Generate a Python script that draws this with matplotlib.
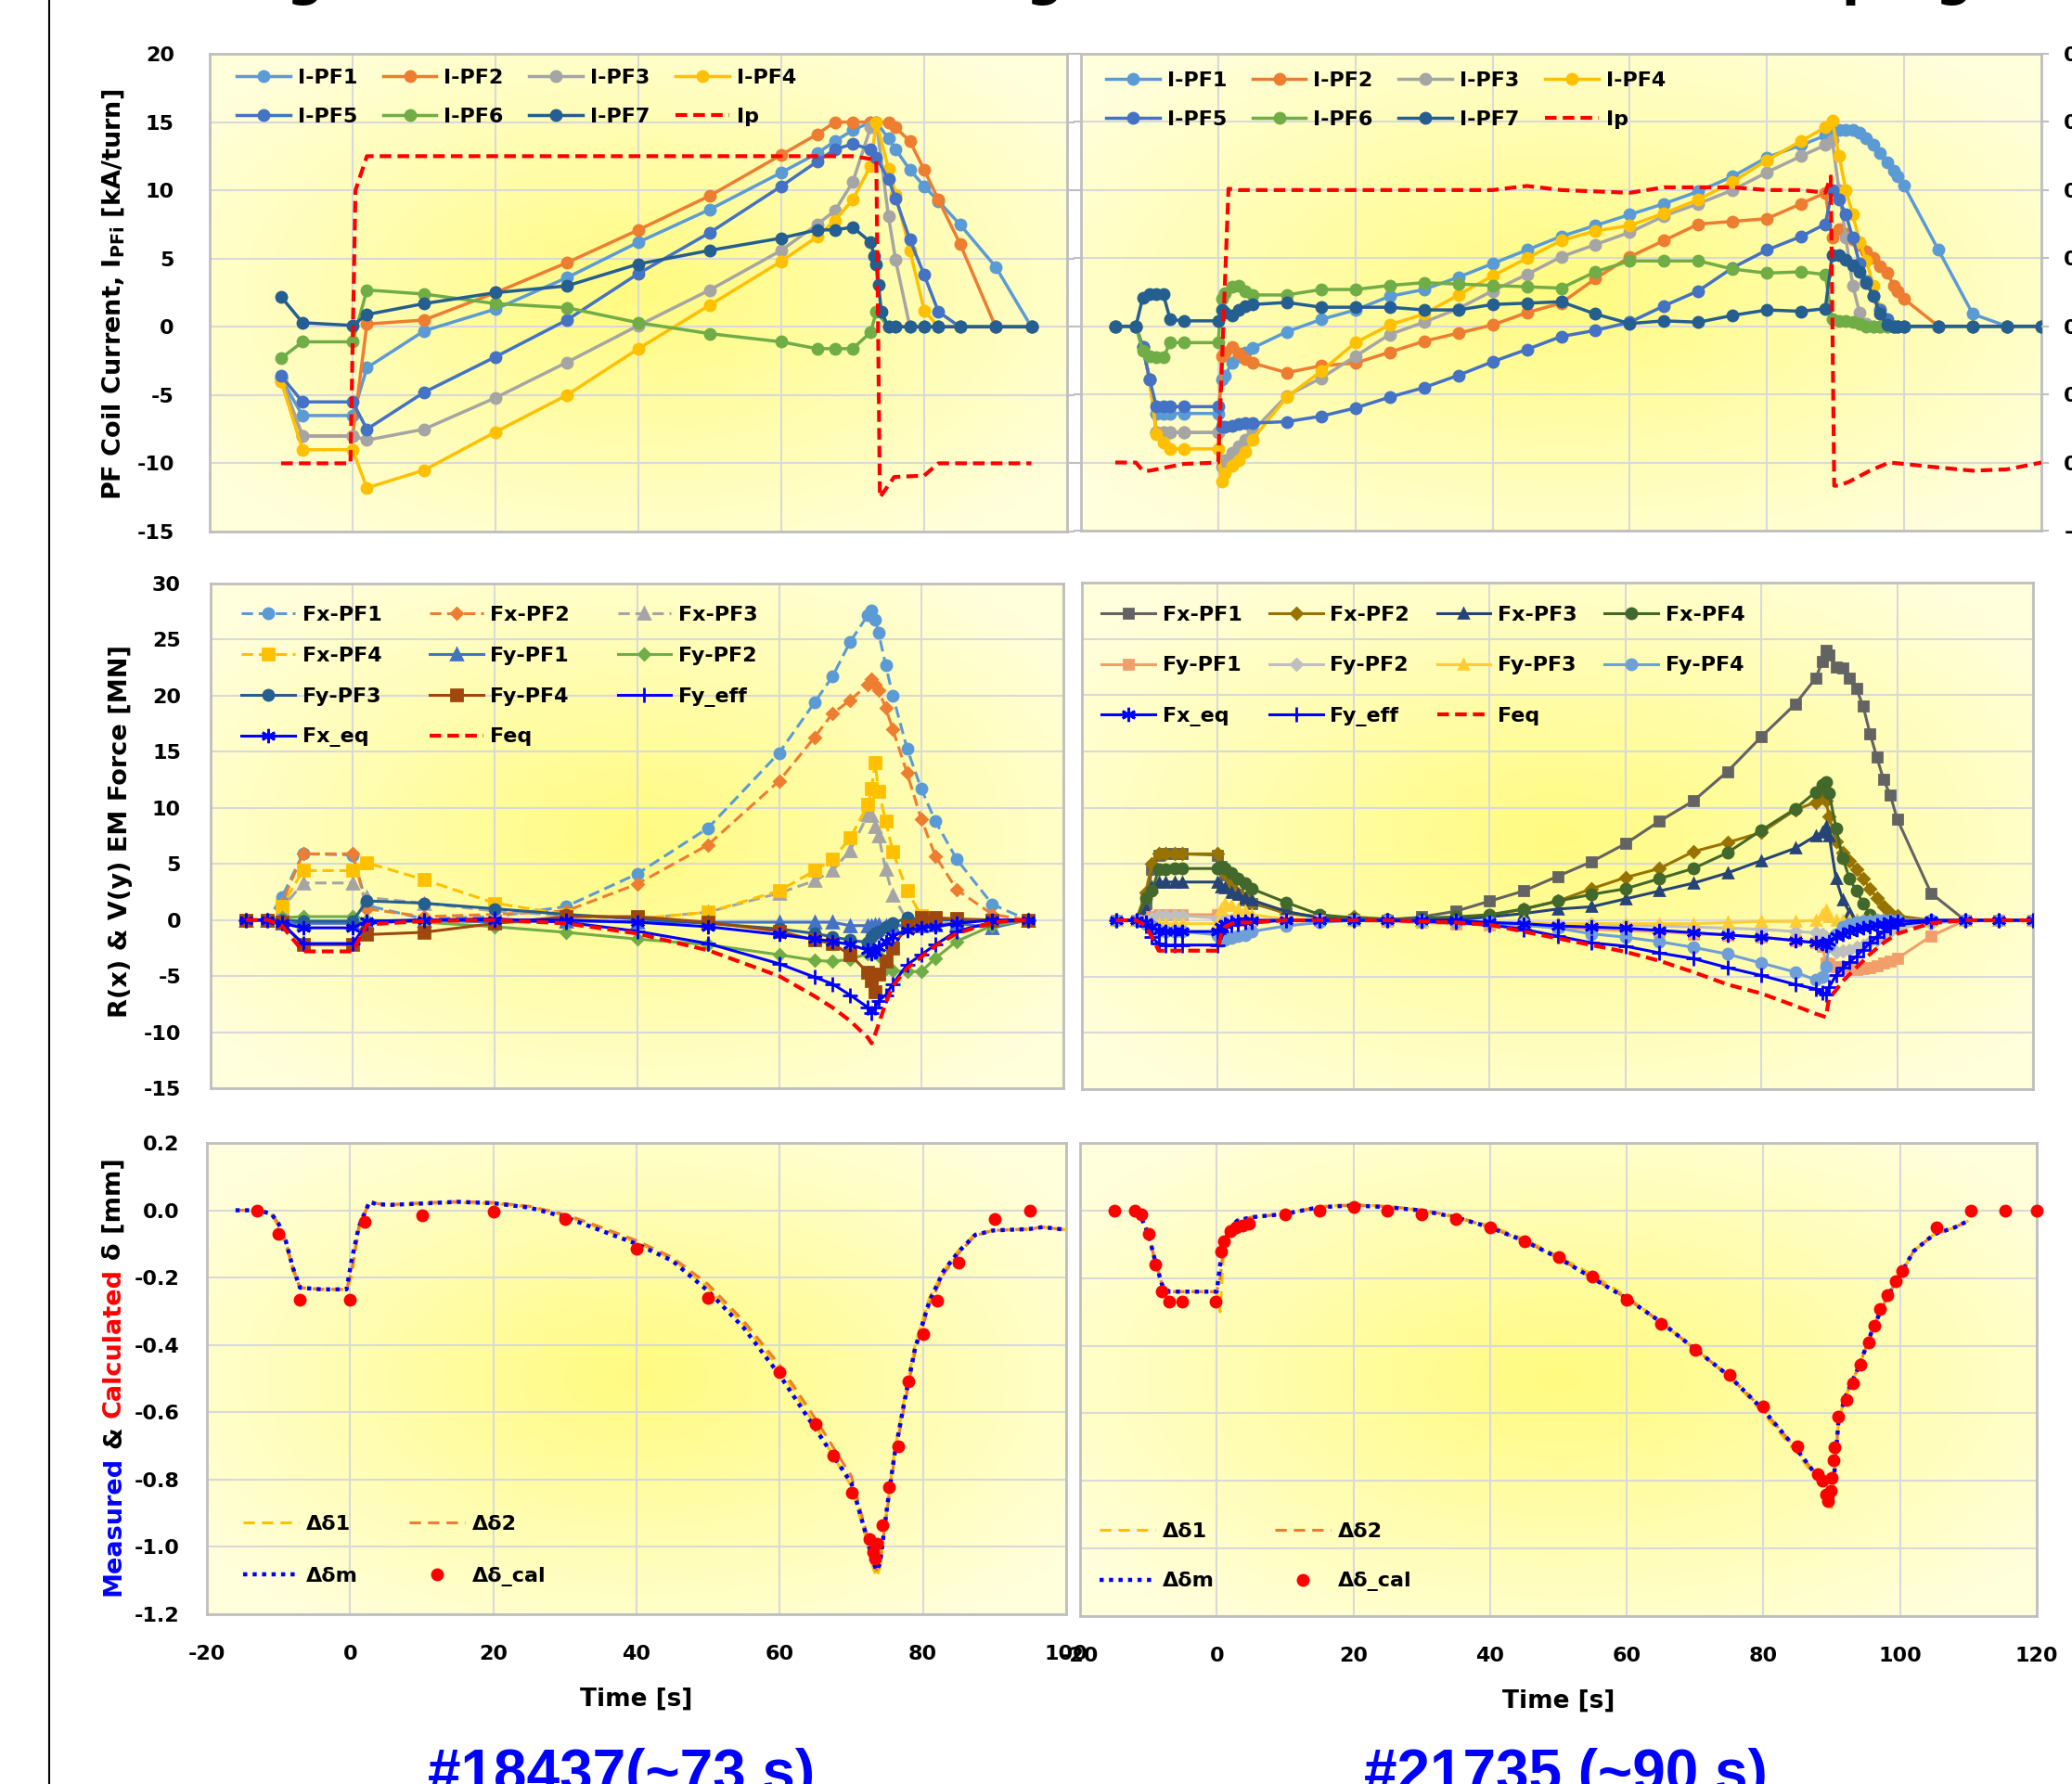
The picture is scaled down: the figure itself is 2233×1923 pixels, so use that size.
import numpy as np
import matplotlib
matplotlib.use("Agg")
import matplotlib.pyplot as plt
from matplotlib.lines import Line2D
from matplotlib.ticker import FormatStrFormatter

# ---------------- shot #18437 : PF coil currents [kA/turn] ----------------
t_pf_a = [-10, -7, 0, 2, 10, 20, 30, 40, 50, 60, 65, 67.5, 70, 72.5, 73.3, 75, 76, 78, 80, 82, 85, 90, 95]
i_pf1_a = [-3.8, -6.5, -6.5, -3.0, -0.3, 1.3, 3.6, 6.2, 8.6, 11.3, 12.7, 13.6, 14.4, 15.0, 15.0, 13.8, 13.0, 11.5, 10.3, 9.2, 7.5, 4.4, 0.0]
i_pf2_a = [-4.0, -8.0, -8.0, 0.2, 0.5, 2.5, 4.7, 7.1, 9.6, 12.6, 14.1, 15.0, 15.0, 15.0, 15.0, 15.0, 14.6, 13.6, 11.5, 9.3, 6.1, 0.0, 0.0]
i_pf3_a = [-3.7, -8.0, -8.0, -8.3, -7.5, -5.2, -2.6, 0.1, 2.7, 5.6, 7.5, 8.5, 10.6, 14.6, 15.0, 8.1, 4.9, 0.0, 0.0, 0.0, 0.0, 0.0, 0.0]
i_pf4_a = [-4.0, -9.0, -9.0, -11.8, -10.5, -7.7, -5.0, -1.6, 1.6, 4.8, 6.6, 7.8, 9.3, 11.8, 15.0, 11.6, 9.7, 5.6, 1.2, 0.0, 0.0, 0.0, 0.0]
i_pf5_a = [-3.6, -5.5, -5.5, -7.5, -4.8, -2.2, 0.5, 3.9, 6.9, 10.3, 12.1, 13.0, 13.4, 13.0, 12.4, 10.8, 9.4, 6.4, 3.8, 1.1, 0.0, 0.0, 0.0]
i_pf6_a = [-2.3, -1.1, -1.1, 2.7, 2.4, 1.7, 1.4, 0.3, -0.5, -1.1, -1.6, -1.6, -1.6, -0.4, 1.1, 0.0, 0.0, 0.0, 0.0, 0.0, 0.0, 0.0, 0.0]
t_pf7_a = [-10, -7, 0, 2, 10, 20, 30, 40, 50, 60, 65, 67.5, 70, 72.5, 73, 73.3, 73.6, 74, 75, 76, 78, 80, 82, 85, 90, 95]
i_pf7_a = [2.2, 0.3, 0.1, 0.9, 1.7, 2.5, 3.0, 4.6, 5.6, 6.5, 7.1, 7.1, 7.3, 6.2, 5.2, 4.6, 3.1, 1.1, 0.0, 0.0, 0.0, 0.0, 0.0, 0.0, 0.0, 0.0]
t_ip_a = [-10, -0.3, 0.4, 2, 20, 40, 60, 70, 72.5, 73.3, 73.8, 75.8, 80, 82, 95]
ip_a = [-10, -10, 10, 12.5, 12.5, 12.5, 12.5, 12.5, 12.3, 12.2, -12.5, -11.0, -10.9, -10, -10]

# ---------------- shot #21735 : PF coil currents [kA/turn] ----------------
t_pf_b = [-15, -12, -11, -10, -9, -8, -7, -5,
          0, 0.5, 1, 2, 3, 4, 5,
          10, 15, 20, 25, 30, 35, 40, 45, 50, 55, 60, 65, 70, 75, 80, 85,
          88.5, 89.5, 90.5, 91.5, 92.5, 93.5, 94.5, 95.5, 96.5, 97.5, 98.5,
          99, 100, 105, 110, 115, 120]
i_pf1_b = [0, 0, -1.5, -3.9, -6.4, -6.4, -6.4, -6.4,
           -6.4, -3.9, -3.6, -2.7, -2.2, -1.9, -1.6,
           -0.4, 0.5, 1.2, 2.2, 2.7, 3.6, 4.6, 5.6, 6.6, 7.4, 8.2, 9.0, 9.9, 11.0, 12.4, 13.3,
           14.0, 14.3, 14.4, 14.4, 14.4, 14.2, 13.8, 13.3, 12.7, 12.0, 11.4,
           11.0, 10.3, 5.6, 0.9, 0.0, 0.0]
i_pf2_b = [0, 0, -1.5, -3.9, -7.8, -7.8, -7.8, -7.8,
           -7.8, -2.2, -1.9, -1.5, -2.0, -2.4, -2.7,
           -3.4, -2.9, -2.7, -1.9, -1.1, -0.5, 0.1, 1.0, 1.7, 3.5, 5.1, 6.3, 7.5, 7.7, 7.9, 9.0,
           9.8, 6.5, 7.1, 6.8, 6.4, 6.0, 5.5, 5.0, 4.4, 3.9, 3.0,
           2.6, 2.0, 0.0, 0.0, 0.0, 0.0]
i_pf3_b = [0, 0, -1.5, -3.9, -7.8, -7.8, -7.8, -7.8,
           -7.8, -10.3, -9.8, -9.3, -8.8, -8.3, -7.7,
           -5.1, -3.8, -2.2, -0.6, 0.3, 1.3, 2.6, 3.8, 5.1, 6.0, 6.9, 8.1, 9.0, 10.0, 11.3, 12.5,
           13.3, 13.7, 10.0, 6.5, 3.0, 1.0, 0.2, 0.0, 0.0, 0.0, 0.0,
           0.0, 0.0, 0.0, 0.0, 0.0, 0.0]
i_pf4_b = [0, 0, -1.5, -3.9, -7.9, -8.5, -9.0, -9.0,
           -9.0, -11.4, -10.8, -10.2, -9.8, -9.2, -8.3,
           -5.2, -3.3, -1.2, 0.1, 0.9, 2.3, 3.7, 5.0, 6.3, 7.0, 7.4, 8.3, 9.3, 10.6, 12.2, 13.6,
           14.6, 15.1, 12.5, 10.0, 8.2, 6.2, 4.8, 3.0, 1.3, 0.2, 0.0,
           0.0, 0.0, 0.0, 0.0, 0.0, 0.0]
i_pf5_b = [0, 0, -1.5, -3.9, -5.9, -5.9, -5.9, -5.9,
           -5.9, -7.4, -7.4, -7.3, -7.2, -7.1, -7.1,
           -7.0, -6.6, -6.0, -5.2, -4.5, -3.6, -2.6, -1.7, -0.75, -0.3, 0.3, 1.5, 2.6, 4.3, 5.6, 6.6,
           7.5, 10.0, 9.3, 8.2, 6.5, 4.6, 3.3, 2.2, 1.2, 0.5, 0.0,
           0.0, 0.0, 0.0, 0.0, 0.0, 0.0]
i_pf6_b = [0, 0, -1.8, -2.2, -2.3, -2.3, -1.2, -1.2,
           -1.2, 2.0, 2.4, 2.9, 3.0, 2.6, 2.3,
           2.3, 2.7, 2.7, 3.0, 3.2, 3.1, 3.0, 2.9, 2.8, 4.0, 4.8, 4.8, 4.8, 4.2, 3.9, 4.0,
           3.8, 0.5, 0.4, 0.4, 0.3, 0.2, 0.0, 0.0, 0.0, 0.0, 0.0,
           0.0, 0.0, 0.0, 0.0, 0.0, 0.0]
i_pf7_b = [0, 0, 2.1, 2.35, 2.35, 2.35, 0.5, 0.4,
           0.4, 1.2, 1.0, 0.8, 1.2, 1.5, 1.6,
           1.75, 1.4, 1.4, 1.4, 1.2, 1.2, 1.6, 1.7, 1.8, 0.9, 0.2, 0.4, 0.3, 0.8, 1.2, 1.1,
           1.3, 5.2, 5.2, 4.9, 4.5, 4.0, 3.2, 2.2, 0.9, 0.1, 0.0,
           0.0, 0.0, 0.0, 0.0, 0.0, 0.0]
t_ip_b = [-15, -12, -11, -10, -8, -5, 0, 1.5, 3, 10, 20, 30, 40, 45, 50, 55, 60, 65, 70,
          75, 80, 85, 88.5, 89.3, 89.8, 90.5, 92, 95, 97.8, 100, 103.7, 110, 115, 120]
ip_b = [-10, -10, -10.6, -10.6, -10.4, -10.1, -10.0, 10.1, 10.0, 10.0, 10.0, 10.0, 10.0, 10.3, 10.0, 9.9, 9.8, 10.2, 10.2,
        10.2, 10.0, 10.0, 9.8, 11.0, -11.7, -11.7, -11.4, -10.6, -10.0, -10.1, -10.3, -10.6, -10.5, -10.0]

# ---------------- shot #18437 : EM forces [MN] ----------------
t_f_a = [-15, -12, -10, -7, 0, 2,
         10, 20, 30, 40, 50, 60,
         65, 67.5, 70, 72.5, 73, 73.5, 74,
         75, 76, 78, 80, 82, 85, 90, 95]
fx_pf1_a = [0, 0, 2.0, 5.9, 5.8, 1.3, 0.1, 0.3, 1.2, 4.1, 8.2, 14.9,
            19.4, 21.7, 24.8, 27.2, 27.6, 26.8, 25.6, 22.7, 20.0, 15.3, 11.7, 8.8, 5.4, 1.4, 0.0]
fx_pf2_a = [0, 0, 1.5, 5.9, 5.9, 1.0, 0.3, 0.5, 0.8, 3.2, 6.7, 12.4,
            16.3, 18.4, 19.6, 21.0, 21.5, 21.0, 20.5, 18.9, 17.0, 13.1, 9.0, 5.7, 2.7, 0.5, 0.0]
fx_pf3_a = [0, 0, 1.0, 3.3, 3.3, 2.0, 1.5, 0.8, 0.4, 0.1, 0.7, 2.4,
            3.5, 4.4, 6.2, 9.4, 9.3, 8.3, 7.5, 4.5, 2.2, 0.0, 0.0, 0.0, 0.0, 0.0, 0.0]
fx_pf4_a = [0, 0, 1.2, 4.4, 4.4, 5.1, 3.6, 1.5, 0.5, 0.1, 0.7, 2.6,
            4.4, 5.4, 7.3, 10.3, 11.7, 14.0, 11.5, 8.8, 6.1, 2.6, 0.4, 0.0, 0.0, 0.0, 0.0]
fy_pf1_a = [0, 0, -0.3, -0.3, -0.3, -0.2, 0.0, -0.2, -0.1, -0.2, -0.2, -0.2,
            -0.2, -0.2, -0.5, -0.5, -0.5, -0.4, -0.4, -0.5, -0.5, -0.5, -0.5, -0.4, -0.3, -0.7, 0.0]
fy_pf2_a = [0, 0, 0.2, 0.3, 0.3, 0.0, -0.2, -0.6, -1.1, -1.7, -2.2, -3.1,
            -3.6, -3.7, -3.5, -3.0, -2.6, -2.8, -3.2, -4.3, -4.5, -4.6, -4.6, -3.4, -1.9, -0.5, 0.0]
fy_pf3_a = [0, 0, 0.0, -0.1, -0.1, 1.7, 1.5, 1.0, 0.5, 0.1, -0.3, -0.8,
            -1.2, -1.5, -1.8, -2.0, -1.5, -1.2, -1.0, -0.6, -0.3, 0.2, 0.0, 0.0, 0.0, 0.0, 0.0]
fy_pf4_a = [0, 0, -0.2, -2.2, -2.2, -1.3, -1.1, -0.3, 0.3, 0.3, -0.2, -1.0,
            -1.8, -2.1, -3.1, -4.7, -5.4, -6.4, -4.8, -3.7, -2.5, -0.5, 0.2, 0.2, 0.1, 0.0, 0.0]
fy_eff_a = [0, 0, -0.3, -2.1, -2.1, -0.3, 0.0, 0.1, -0.2, -1.0, -2.1, -3.9,
            -5.1, -5.7, -6.7, -7.8, -8.3, -7.8, -7.2, -6.7, -5.7, -4.0, -3.1, -2.2, -1.0, -0.2, 0.0]
fx_eq_a = [0, 0, -0.3, -0.7, -0.7, -0.1, 0.0, 0.0, 0.0, -0.2, -0.6, -1.3,
           -1.7, -1.9, -2.2, -2.7, -3.0, -2.8, -2.4, -1.9, -1.4, -0.9, -0.7, -0.6, -0.3, 0.0, 0.0]
feq_a = [0, 0, -0.5, -2.8, -2.8, -0.4, -0.1, 0.0, -0.3, -1.2, -2.7, -5.0,
         -6.8, -7.8, -9.0, -10.5, -11.0, -10.2, -9.3, -7.4, -5.9, -4.3, -3.3, -2.3, -1.2, -0.2, 0.0]

# ---------------- shot #21735 : EM forces [MN] ----------------
t_f_b = [-15, -12, -10.6, -9.7, -8.7, -7.7, -6.4, -5.2,
         0, 0.5, 1, 2, 3, 4, 5,
         10, 15, 20, 25, 30, 35, 40, 45, 50, 55, 60, 65, 70, 75, 80, 85,
         88, 89, 89.5, 90, 91, 92, 93, 94, 95, 96, 97, 98, 99, 100,
         105, 110, 115, 120]
fx_pf1_b = [0, 0, 1.5, 4.5, 5.8, 5.9, 5.9, 5.9,
            5.8, 4.8, 4.0, 3.0, 2.3, 1.8, 1.5,
            0.7, 0.3, 0.1, 0.0, 0.3, 0.8, 1.7, 2.6, 3.9, 5.2, 6.8, 8.8, 10.6, 13.2, 16.3, 19.2,
            21.5, 23.0, 24.0, 23.6, 22.5, 22.4, 21.5, 20.6, 19.0, 16.6, 14.5, 12.5, 11.1, 9.0,
            2.4, 0.0, 0.0, 0.0]
fx_pf2_b = [0, 0, 2.5, 5.0, 5.9, 5.9, 5.9, 5.9,
            5.9, 4.9, 4.2, 3.3, 2.4, 2.0, 1.6,
            0.6, 0.3, 0.3, 0.1, 0.1, 0.2, 0.4, 1.0, 1.7, 2.8, 3.8, 4.6, 6.1, 6.9, 7.8, 9.8,
            10.5, 11.1, 10.6, 9.2, 7.0, 6.0, 5.3, 4.5, 3.7, 2.8, 2.0, 1.2, 0.7, 0.4,
            0.0, 0.0, 0.0, 0.0]
fx_pf3_b = [0, 0, 1.0, 3.0, 3.4, 3.4, 3.4, 3.4,
            3.4, 3.0, 2.9, 2.5, 2.3, 2.0, 1.8,
            0.8, 0.2, 0.0, 0.0, 0.0, 0.05, 0.3, 0.6, 1.0, 1.2, 1.9, 2.6, 3.3, 4.2, 5.3, 6.4,
            7.5, 7.8, 8.3, 7.5, 3.7, 1.8, 0.7, 0.0, 0.0, 0.0, 0.0, 0.0, 0.0, 0.0,
            0.0, 0.0, 0.0, 0.0]
fx_pf4_b = [0, 0, 2.0, 2.6, 4.5, 4.5, 4.6, 4.6,
            4.6, 4.8, 4.6, 4.2, 3.7, 3.3, 2.8,
            1.6, 0.5, 0.2, 0.1, 0.2, 0.3, 0.5, 1.0, 1.7, 2.3, 2.8, 3.7, 4.6, 6.0, 8.0, 9.9,
            11.4, 12.0, 12.3, 11.3, 8.2, 5.5, 3.7, 2.6, 1.5, 0.5, 0.0, 0.0, 0.0, 0.0,
            0.0, 0.0, 0.0, 0.0]
fy_pf1_b = [0, 0, -0.1, 0.3, 0.5, 0.5, 0.5, 0.5,
            0.5, 0.1, 0.0, 0.0, 0.0, 0.0, 0.0,
            0.0, 0.0, 0.0, -0.1, -0.2, -0.3, -0.4, -0.5, -0.6, -0.8, -0.9, -1.0, -1.2, -1.3, -1.5, -1.8,
            -2.0, -2.3, -3.8, -3.9, -4.1, -4.2, -4.3, -4.4, -4.3, -4.2, -4.0, -3.8, -3.6, -3.4,
            -1.4, 0.0, 0.0, 0.0]
fy_pf2_b = [0, 0, 0.0, 0.2, 0.4, 0.4, 0.4, 0.4,
            0.2, 0.1, 0.0, 0.0, 0.0, 0.0, 0.0,
            0.0, 0.0, 0.0, 0.0, 0.0, -0.1, -0.2, -0.2, -0.3, -0.3, -0.4, -0.5, -0.6, -0.7, -0.8, -1.0,
            -1.1, -1.2, -1.5, -2.2, -2.8, -2.7, -2.6, -2.4, -2.2, -1.9, -1.7, -1.4, -1.0, -0.7,
            -0.3, 0.0, 0.0, 0.0]
fy_pf3_b = [0, 0, -0.1, -0.3, -0.3, -0.3, -0.3, -0.3,
            -0.3, 1.0, 1.5, 1.3, 1.0, 0.8, 0.5,
            0.1, 0.0, 0.0, 0.0, -0.1, -0.1, -0.2, -0.2, -0.3, -0.3, -0.3, -0.3, -0.3, -0.2, -0.1, -0.1,
            0.0, 0.5, 0.9, 0.3, 0.0, 0.0, 0.0, 0.0, 0.0, 0.0, 0.0, 0.0, 0.0, 0.0,
            0.0, 0.0, 0.0, 0.0]
fy_pf4_b = [0, 0, -0.3, -0.5, -0.9, -1.0, -1.0, -1.0,
            -1.3, -1.8, -1.7, -1.6, -1.4, -1.3, -1.0,
            -0.5, -0.2, 0.0, 0.0, -0.1, -0.2, -0.2, -0.4, -0.7, -1.2, -1.5, -1.9, -2.4, -3.0, -3.8, -4.6,
            -5.3, -5.0, -4.1, -2.2, -1.2, -0.6, -0.3, -0.2, -0.1, -0.1, 0.0, 0.0, 0.0, 0.0,
            0.0, 0.0, 0.0, 0.0]
fx_eq_b = [0, 0, -0.2, -0.6, -0.9, -1.0, -1.0, -1.0,
           -1.0, -0.6, -0.3, -0.2, -0.1, -0.1, 0.0,
           0.0, 0.0, 0.0, 0.0, 0.0, 0.0, -0.2, -0.3, -0.5, -0.6, -0.7, -0.9, -1.1, -1.3, -1.5, -1.8,
           -2.0, -2.1, -2.2, -1.9, -1.4, -1.2, -1.0, -0.8, -0.7, -0.6, -0.4, -0.3, -0.2, -0.1,
           0.0, 0.0, 0.0, 0.0]
fy_eff_b = [0, 0, -0.5, -1.5, -2.1, -2.2, -2.2, -2.2,
            -2.2, -1.0, -0.6, -0.4, -0.3, -0.2, -0.2,
            0.0, 0.0, 0.0, 0.0, -0.1, -0.2, -0.4, -0.8, -1.4, -2.0, -2.3, -2.9, -3.4, -4.2, -4.9, -5.7,
            -6.1, -6.4, -6.6, -5.9, -4.9, -4.2, -3.7, -3.2, -2.6, -2.0, -1.5, -1.0, -0.7, -0.4,
            -0.1, 0.0, 0.0, 0.0]
feq_b = [0, 0, -0.5, -1.5, -2.7, -2.7, -2.7, -2.7,
         -2.7, -1.2, -0.6, -0.3, -0.2, -0.2, -0.2,
         0.0, 0.0, 0.0, 0.0, -0.1, -0.2, -0.4, -1.0, -1.6, -2.2, -2.8, -3.6, -4.6, -5.7, -6.5, -7.6,
         -8.3, -8.5, -8.6, -6.9, -6.2, -5.4, -4.8, -4.2, -3.6, -3.0, -2.5, -2.0, -1.6, -1.2,
         -0.25, 0.0, 0.0, 0.0]

# ---------------- displacement delta [mm] ----------------
t_dm_a = [-16, -13, -11, -10, -9, -8, -7, -4, -0.5,
          0.2, 1.2, 2.7, 3.7, 5.6,
          10, 15, 20, 25, 30, 35, 40, 45, 50, 55, 60, 65, 70,
          72, 73, 73.5, 74, 75, 76,
          77.4, 78.9, 80.9, 82.9, 84.9, 87.3, 89.8, 92, 94.8, 96.7, 100]
dm_a = [0.0, 0.0, -0.01, -0.04, -0.09, -0.17, -0.23, -0.235, -0.235,
        -0.15, -0.05, 0.025, 0.018, 0.016,
        0.02, 0.025, 0.021, 0.008, -0.02, -0.06, -0.1, -0.15, -0.24, -0.35, -0.49, -0.65, -0.81,
        -0.96, -1.04, -1.07, -1.05, -0.88, -0.73,
        -0.57, -0.41, -0.27, -0.18, -0.125, -0.073, -0.06, -0.058, -0.056, -0.05, -0.058]
d1_a = [0.0, 0.0, -0.01, -0.05, -0.10, -0.18, -0.23, -0.235, -0.235,
        -0.20, -0.06, 0.03, 0.02, 0.015,
        0.02, 0.023, 0.02, 0.01, -0.015, -0.055, -0.095, -0.145, -0.23, -0.34, -0.47, -0.64, -0.82,
        -0.97, -1.06, -1.09, -1.06, -0.88, -0.72,
        -0.56, -0.40, -0.26, -0.18, -0.12, -0.07, -0.06, -0.058, -0.056, -0.05, -0.058]
d2_a = [0.0, 0.0, -0.01, -0.04, -0.09, -0.17, -0.23, -0.235, -0.235,
        -0.18, -0.05, 0.025, 0.02, 0.017,
        0.022, 0.026, 0.023, 0.012, -0.012, -0.05, -0.09, -0.14, -0.22, -0.33, -0.46, -0.62, -0.79,
        -0.95, -1.03, -1.07, -1.05, -0.89, -0.74,
        -0.58, -0.42, -0.28, -0.19, -0.13, -0.075, -0.06, -0.058, -0.056, -0.05, -0.058]
t_dc_a = [-13, -10, -7, 0, 2, 10, 20, 30, 40, 50, 60, 65, 67.5, 70, 72.5, 73, 73.3, 73.6,
          74.3, 75.3, 76.5, 78, 80, 82, 85, 90, 95]
dc_a = [0.0, -0.07, -0.267, -0.267, -0.034, -0.014, -0.005, -0.027, -0.115, -0.259, -0.481, -0.635,
        -0.73, -0.838, -0.978, -1.014, -1.034, -0.99, -0.936, -0.822, -0.70, -0.507, -0.367, -0.269,
        -0.156, -0.025, 0.0]

t_dm_b = [-11.5, -10, -9, -8, -7, -4, 0,
          0.5, 1, 2, 3, 5,
          10, 15, 20, 25, 30, 35, 40, 45, 50, 55, 60, 65, 70, 75, 80, 85,
          88, 89.5, 90, 90.5, 91, 92, 94, 96, 98, 100,
          102, 105, 108, 110]
dm_b = [0.0, -0.07, -0.15, -0.22, -0.24, -0.24, -0.24,
        -0.16, -0.1, -0.05, -0.03, -0.02,
        -0.01, 0.01, 0.015, 0.01, 0.0, -0.02, -0.05, -0.09, -0.14, -0.2, -0.26, -0.33, -0.41, -0.49, -0.59, -0.71,
        -0.79, -0.85, -0.87, -0.75, -0.62, -0.55, -0.46, -0.35, -0.26, -0.19,
        -0.12, -0.07, -0.05, -0.03]
d1_b = [0.0, -0.07, -0.15, -0.22, -0.24, -0.24, -0.24,
        -0.30, -0.12, -0.05, -0.03, -0.02,
        -0.01, 0.012, 0.018, 0.012, 0.0, -0.02, -0.045, -0.085, -0.135, -0.19, -0.255, -0.33, -0.41, -0.49, -0.6, -0.72,
        -0.8, -0.86, -0.88, -0.75, -0.62, -0.55, -0.46, -0.35, -0.26, -0.19,
        -0.12, -0.07, -0.05, -0.03]
d2_b = [0.0, -0.07, -0.15, -0.22, -0.24, -0.24, -0.24,
        -0.2, -0.11, -0.05, -0.03, -0.02,
        -0.01, 0.01, 0.016, 0.012, 0.002, -0.018, -0.05, -0.09, -0.14, -0.2, -0.26, -0.33, -0.41, -0.49, -0.59, -0.71,
        -0.79, -0.85, -0.87, -0.75, -0.62, -0.55, -0.46, -0.35, -0.26, -0.19,
        -0.12, -0.07, -0.05, -0.03]
t_dc_b = [-15, -12, -11, -10, -9, -8, -7, -5, -0.2,
          0.6, 1, 2, 2.8, 3.7, 4.7,
          10, 15, 20, 25, 30, 35, 40, 45, 50, 55,
          60, 65, 70, 75, 80, 85,
          88, 88.7, 89.2, 89.5, 89.8, 90, 90.2, 90.4,
          91, 92.2, 93.1, 94.2, 95.4, 96.2, 97.1, 98.1, 99.3, 100.3,
          105.4, 110.3, 115.4, 120]
dc_b = [0.0, 0.0, -0.01, -0.07, -0.16, -0.24, -0.27, -0.27, -0.27,
        -0.12, -0.09, -0.06, -0.05, -0.045, -0.04,
        -0.01, 0.0, 0.01, 0.0, -0.01, -0.026, -0.05, -0.09, -0.137, -0.195,
        -0.263, -0.334, -0.412, -0.486, -0.58, -0.697,
        -0.78, -0.80, -0.84, -0.86, -0.83, -0.79, -0.74, -0.70,
        -0.61, -0.56, -0.51, -0.455, -0.39, -0.34, -0.29, -0.25, -0.21, -0.18,
        -0.05, 0.0, 0.0, 0.0]

pf_labels = ['I-PF1', 'I-PF2', 'I-PF3', 'I-PF4', 'I-PF5', 'I-PF6', 'I-PF7']
pf_colors = ['#5B9BD5', '#ED7D31', '#A5A5A5', '#FFC000', '#4472C4', '#70AD47', '#255E91']
shots = ['#18437(~73 s)', '#21735 (~90 s)']

# ---------------------------------------------------------------------------
W, H = 2233, 1923
plt.rcParams['font.family'] = ['DejaVu Sans']
plt.rcParams['font.weight'] = 'bold'
plt.rcParams['axes.labelweight'] = 'bold'
plt.rcParams['axes.unicode_minus'] = False

fig = plt.figure(figsize=(W / 100, H / 100), dpi=100)


def px_axes(x0, y0, x1, y1):
    return fig.add_axes([x0 / W, 1 - y1 / H, (x1 - x0) / W, (y1 - y0) / H])


def yellow_bg(ax):
    yy, xx = np.mgrid[-1:1:300j, -1:1:300j]
    r = np.clip(np.hypot(xx, yy) / 1.25, 0, 1)
    inner = np.array([1.0, 0.985, 0.50])
    outer = np.array([1.0, 1.0, 0.86])
    img = inner + (outer - inner) * r[..., None]
    ax.imshow(img, extent=(0, 1, 0, 1), transform=ax.transAxes, aspect='auto',
              zorder=0, interpolation='bilinear')


def setup(ax, xmax, ylim, ystep, xlabels, ylabels, ypad, fmt='%d'):
    yellow_bg(ax)
    ax.set_xlim(-20, xmax)
    ax.set_ylim(*ylim)
    ax.set_xticks(np.arange(-20, xmax + 1, 20))
    ax.set_yticks(np.round(np.arange(ylim[0], ylim[1] + ystep / 2, ystep), 6) + 0.0)
    ax.yaxis.set_major_formatter(FormatStrFormatter(fmt))
    ax.grid(True, color='#D9D9D9', linewidth=1.5)
    ax.set_axisbelow(True)
    for sp in ax.spines.values():
        sp.set_color('#BFBFBF')
        sp.set_linewidth(2.0)
    ax.tick_params(axis='both', length=0, labelsize=16)
    ax.tick_params(axis='y', pad=ypad, labelleft=ylabels)
    ax.tick_params(axis='x', pad=24, labelbottom=xlabels)


def right_ticks(ax):
    ax.tick_params(axis='y', left=False, right=True, direction='out', length=6,
                   width=1.5, color='#BFBFBF')


def colmajor(items, ncol):
    nrows = -(-len(items) // ncol)
    out = []
    for c in range(ncol):
        for r in range(nrows):
            i = r * ncol + c
            if i < len(items):
                out.append(items[i])
    return out


def legend(ax, handles, ncol, x, y, colsp, labsp, hl=2.6):
    ax.legend(handles=colmajor(handles, ncol), ncol=ncol, loc='upper left',
              bbox_to_anchor=(x / W, 1 - y / H), bbox_transform=fig.transFigure,
              frameon=False, prop={'size': 16, 'weight': 'bold'}, handlelength=hl,
              handletextpad=0.35, columnspacing=colsp, labelspacing=labsp,
              borderpad=0, borderaxespad=0)


# ---------------- row 1 : PF coil currents ----------------
ax1 = px_axes(226, 58, 1150, 573)
ax2 = px_axes(1165, 58, 2200, 572)
setup(ax1, 100, (-15, 20), 5, False, True, 21.5)
setup(ax2, 120, (-15, 20), 5, False, False, 21.5)
right_ticks(ax1)
right_ticks(ax2)

pf_a = [i_pf1_a, i_pf2_a, i_pf3_a, i_pf4_a, i_pf5_a, i_pf6_a, i_pf7_a]
pf_b = [i_pf1_b, i_pf2_b, i_pf3_b, i_pf4_b, i_pf5_b, i_pf6_b, i_pf7_b]
for ax, series, tt, t7, tip, ip, lx, ly in [
        (ax1, pf_a, t_pf_a, t_pf7_a, t_ip_a, ip_a, 255, 74),
        (ax2, pf_b, t_pf_b, t_pf_b, t_ip_b, ip_b, 1192, 77)]:
    hs = []
    for k, (vals, lab, col) in enumerate(zip(series, pf_labels, pf_colors)):
        tv = t7 if k == 6 else tt
        hs += ax.plot(tv, vals, '-o', color=col, lw=2.5, ms=9, label=lab, zorder=3)
    hs += ax.plot(tip, ip, color='#FF0000', lw=3, dashes=(3, 1.6), label='Ip', zorder=4)
    legend(ax, hs, 4, lx, ly, 1.25, 1.0)

ax2r = ax2.twinx()
ax2r.set_ylim(-0.1, 0.6)
ax2r.set_yticks(np.round(np.arange(-0.1, 0.65, 0.1), 6) + 0.0)
ax2r.yaxis.set_major_formatter(FormatStrFormatter('%.1f'))
ax2r.tick_params(axis='y', right=True, direction='out', length=6, width=1.5,
                 color='#BFBFBF', pad=11.5, labelsize=16)
for sp in ax2r.spines.values():
    sp.set_visible(False)

# ---------------- row 2 : EM forces ----------------
ax3 = px_axes(227, 629, 1146, 1173)
ax4 = px_axes(1166, 628, 2191, 1174)
setup(ax3, 100, (-15, 30), 5, False, True, 23)
setup(ax4, 120, (-15, 30), 5, False, False, 23)

star = (6, 2, 0)
force_a = [
    ('Fx-PF1', fx_pf1_a, '#5B9BD5', 'o', 8, '--'),
    ('Fx-PF2', fx_pf2_a, '#ED7D31', 'D', 6, '--'),
    ('Fx-PF3', fx_pf3_a, '#A5A5A5', '^', 8, '--'),
    ('Fx-PF4', fx_pf4_a, '#FFC000', 's', 8, '--'),
    ('Fy-PF1', fy_pf1_a, '#4472C4', '^', 8, '-'),
    ('Fy-PF2', fy_pf2_a, '#70AD47', 'D', 6, '-'),
    ('Fy-PF3', fy_pf3_a, '#255E91', 'o', 8, '-'),
    ('Fy-PF4', fy_pf4_a, '#9E480E', 's', 8, '-'),
    ('Fy_eff', fy_eff_a, '#0000FF', '+', 12, '-'),
    ('Fx_eq', fx_eq_a, '#0000FF', star, 11, '-'),
]
force_b = [
    ('Fx-PF1', fx_pf1_b, '#636363', 's', 7, '-'),
    ('Fx-PF2', fx_pf2_b, '#997300', 'D', 6, '-'),
    ('Fx-PF3', fx_pf3_b, '#264478', '^', 7, '-'),
    ('Fx-PF4', fx_pf4_b, '#43682B', 'o', 8, '-'),
    ('Fy-PF1', fy_pf1_b, '#F29E6B', 's', 7, '-'),
    ('Fy-PF2', fy_pf2_b, '#BFBFBF', 'D', 6, '-'),
    ('Fy-PF3', fy_pf3_b, '#FFCD33', '^', 7, '-'),
    ('Fy-PF4', fy_pf4_b, '#6E9FD8', 'o', 8, '-'),
    ('Fx_eq', fx_eq_b, '#0000FF', star, 11, '-'),
    ('Fy_eff', fy_eff_b, '#0000FF', '+', 12, '-'),
]
for ax, series, tt, feq, lx, ly, ncol, colsp, labsp in [
        (ax3, force_a, t_f_a, feq_a, 260, 653, 3, 2.32, 1.07),
        (ax4, force_b, t_f_b, feq_b, 1187, 653, 4, 1.33, 1.55)]:
    hs = []
    for lab, vals, col, mk, ms, ls in series:
        kw = dict(dashes=(4, 2)) if ls == '--' else {}
        hs += ax.plot(tt, vals, color=col, lw=2.2, marker=mk, ms=ms, mew=2,
                      label=lab, zorder=3, **kw)
    hs += ax.plot(tt, feq, color='#FF0000', lw=3, dashes=(3, 1.6), label='Feq', zorder=4)
    legend(ax, hs, ncol, lx, ly, colsp, labsp)

# ---------------- row 3 : displacement ----------------
ax5 = px_axes(223, 1232, 1149, 1740)
ax6 = px_axes(1164, 1232, 2195, 1742)
setup(ax5, 100, (-1.2, 0.2), 0.2, True, True, 21.5, '%.1f')
setup(ax6, 120, (-1.2, 0.2), 0.2, True, False, 21.5, '%.1f')

for ax, tm, d1, d2, dm, tc, dc, lx, ly, colsp, labsp in [
        (ax5, t_dm_a, d1_a, d2_a, dm_a, t_dc_a, dc_a, 262, 1633, 2.5, 1.6),
        (ax6, t_dm_b, d1_b, d2_b, dm_b, t_dc_b, dc_b, 1185, 1641, 2.95, 1.5)]:
    hs = []
    hs += ax.plot(tm, d1, color='#FFC000', lw=2.2, dashes=(4, 2.5), label='Δδ1', zorder=3)
    hs += ax.plot(tm, d2, color='#ED7D31', lw=2.2, dashes=(4, 2.5), label='Δδ2', zorder=3)
    hs += ax.plot(tm, dm, color='#0000FF', lw=3.2, dashes=(1, 1.3), label='Δδm', zorder=4)
    hs += ax.plot(tc, dc, 'o', color='#FF0000', ms=9, label='Δδ_cal', zorder=5, clip_on=False)
    legend(ax, hs, 2, lx, ly, colsp, labsp, hl=2.7)
    ax.set_xlabel('Time [s]', fontsize=19, fontweight='bold', labelpad=18)

# ---------------- labels & decorations ----------------
fig.text(130 / W, 1 - 317 / H, r'PF Coil Current, I$_{\mathbf{PFi}}$ [kA/turn]',
         rotation=90, rotation_mode='anchor', ha='center', va='baseline', fontsize=19.5)
fig.text(137 / W, 1 - 896 / H, 'R(x) & V(y) EM Force [MN]',
         rotation=90, rotation_mode='anchor', ha='center', va='baseline', fontsize=19.5)

renderer = fig.canvas.get_renderer()
ypos = H - 1720
for piece, col in [('Measured', '#0000FF'), ('&', 'black'),
                   ('Calculated', '#FF0000'), ('δ [mm]', 'black')]:
    txt = fig.text(130 / W, ypos / H, piece, color=col, rotation=90, rotation_mode='anchor',
                   ha='left', va='baseline', fontsize=19.5)
    ypos += txt.get_window_extent(renderer).height + 9

for x, s in zip([670, 1687], shots):
    fig.text(x / W, 1 - 1884 / H, s, color='#0000FF', fontsize=46, ha='center', va='top',
             family=['Liberation Sans', 'DejaVu Sans'], fontweight='bold')

# descenders of the slide title cut off at the top edge
for x, ch in zip([328, 1125, 2004, 2105], ['g', 'g', 'p', 'g']):
    fig.text(x / W, 1 + 6 / H, ch, fontsize=40, ha='center', va='baseline')

fig.add_artist(Line2D([53 / W, 53 / W], [0, 1], color='black', lw=1.5))

fig.savefig('out.png', dpi=100)
